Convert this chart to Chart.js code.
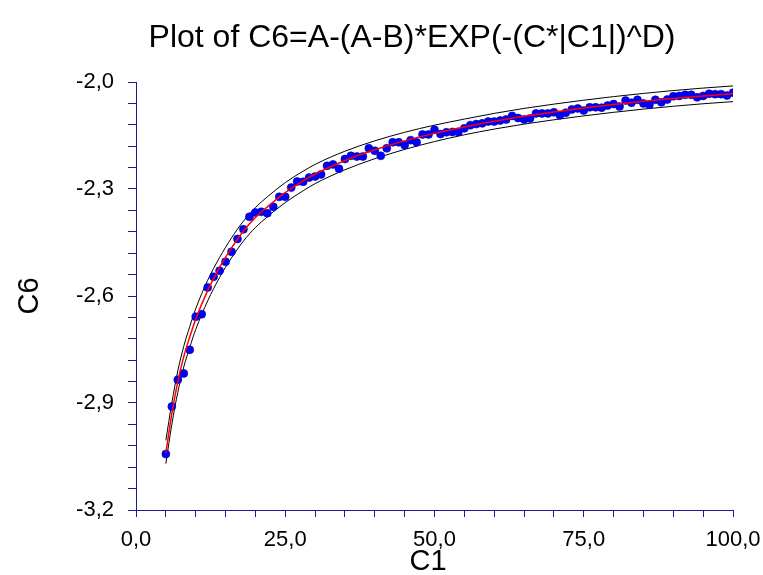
<!DOCTYPE html>
<html>
<head>
<meta charset="utf-8">
<style>
  html, body { margin: 0; padding: 0; background: #fff; }
  #wrap { width: 763px; height: 575px; }
</style>
</head>
<body>
<div id="wrap"><canvas id="chart" width="763" height="575"></canvas></div>

<script src="https://cdn.jsdelivr.net/npm/chart.js"></script>
<script>
// observed data (C1, C6)
const c1 = [5, 6, 7, 8, 9, 10, 11, 12, 13, 14, 15, 16, 17, 18, 19, 20, 21, 22, 23, 24,
  25, 26, 27, 28, 29, 30, 31, 32, 33, 34, 35, 36, 37, 38, 39, 40, 41, 42, 43, 44,
  45, 46, 47, 48, 49, 50, 51, 52, 53, 54, 55, 56, 57, 58, 59, 60, 61, 62, 63, 64,
  65, 66, 67, 68, 69, 70, 71, 72, 73, 74, 75, 76, 77, 78, 79, 80, 81, 82, 83, 84,
  85, 86, 87, 88, 89, 90, 91, 92, 93, 94, 95, 96, 97, 98, 99, 100];
const c6 = [-3.043, -2.910, -2.835, -2.817, -2.751, -2.658, -2.651, -2.576, -2.546, -2.529,
  -2.504, -2.476, -2.440, -2.413, -2.378, -2.366, -2.364, -2.368, -2.350, -2.322,
  -2.322, -2.296, -2.279, -2.280, -2.268, -2.265, -2.259, -2.235, -2.231, -2.243,
  -2.216, -2.207, -2.209, -2.209, -2.186, -2.193, -2.207, -2.186, -2.169, -2.169,
  -2.177, -2.163, -2.169, -2.147, -2.147, -2.134, -2.146, -2.141, -2.140, -2.140,
  -2.130, -2.121, -2.118, -2.116, -2.111, -2.111, -2.108, -2.105, -2.095, -2.101,
  -2.105, -2.102, -2.088, -2.088, -2.088, -2.085, -2.093, -2.086, -2.077, -2.074,
  -2.080, -2.071, -2.071, -2.072, -2.066, -2.062, -2.069, -2.052, -2.058, -2.050,
  -2.060, -2.064, -2.050, -2.057, -2.049, -2.040, -2.039, -2.036, -2.036, -2.043,
  -2.039, -2.033, -2.034, -2.034, -2.038, -2.030];

// fitted curve and its band
const fitX = [5, 6, 7, 8, 9, 10, 12, 14, 16, 18, 20, 22, 25, 28, 30, 35, 40, 45, 50,
  55, 60, 65, 70, 75, 80, 85, 90, 95, 100];
const fitY = [-3.04, -2.93, -2.84, -2.77, -2.715, -2.665, -2.585, -2.52, -2.465, -2.418,
  -2.38, -2.35, -2.31, -2.277, -2.258, -2.220, -2.190, -2.165, -2.144,
  -2.126, -2.110, -2.096, -2.084, -2.073, -2.063, -2.054, -2.046, -2.039, -2.033];
const upperY = [-3.005, -2.90, -2.81, -2.741, -2.686, -2.636, -2.556, -2.492, -2.437, -2.39,
  -2.352, -2.322, -2.282, -2.25, -2.231, -2.194, -2.165, -2.141, -2.121,
  -2.104, -2.088, -2.074, -2.062, -2.051, -2.041, -2.032, -2.024, -2.017, -2.011];
const lowerY = [-3.07, -2.96, -2.87, -2.799, -2.744, -2.694, -2.614, -2.548, -2.493, -2.446,
  -2.408, -2.378, -2.338, -2.305, -2.285, -2.246, -2.215, -2.189, -2.167,
  -2.148, -2.132, -2.118, -2.106, -2.095, -2.085, -2.076, -2.068, -2.061, -2.055];

// axis ticks
const xMajor = [0, 25, 50, 75, 100];
const xMinorStep = 5;
const yMajor = [-3.2, -2.9, -2.6, -2.3, -2.0];
const yMinorPerMajor = 5;

const FONT = "'Liberation Sans', Arial, sans-serif";
const AXIS_COLOR = '#1c1c8c';

function pairs(xs, ys) {
  return xs.map((x, i) => ({ x: x, y: ys[i] }));
}

function fmt(v) {
  return v.toFixed(1).replace('.', ',');
}

// minor + major tick positions
const xTicks = [];
for (let v = xMajor[0]; v <= xMajor[xMajor.length - 1] + 1e-9; v += xMinorStep) xTicks.push(v);
const yTicks = [];
for (let i = 0; i < yMajor.length - 1; i++) {
  const step = (yMajor[i + 1] - yMajor[i]) / yMinorPerMajor;
  for (let k = 0; k < yMinorPerMajor; k++) yTicks.push(yMajor[i] + k * step);
}
yTicks.push(yMajor[yMajor.length - 1]);

const textPlugin = {
  id: 'texts',
  afterDraw(chart) {
    const ctx = chart.ctx;
    const area = chart.chartArea;
    ctx.save();
    ctx.fillStyle = '#000';
    ctx.textAlign = 'center';
    ctx.textBaseline = 'middle';
    ctx.font = '32px ' + FONT;
    ctx.fillText('Plot of C6=A-(A-B)*EXP(-(C*|C1|)^D)', 412, 38);
    ctx.font = '29px ' + FONT;
    ctx.fillText('C1', 428, 562);
    ctx.translate(30, (area.top + area.bottom) / 2);
    ctx.rotate(-Math.PI / 2);
    ctx.fillText('C6', 0, 0);
    ctx.restore();
  }
};

new Chart(document.getElementById('chart').getContext('2d'), {
  type: 'scatter',
  data: {
    datasets: [
      {
        label: 'fit',
        data: pairs(fitX, fitY),
        showLine: true,
        borderColor: '#ff0000',
        borderWidth: 1.5,
        pointRadius: 0,
        cubicInterpolationMode: 'monotone',
        order: 0
      },
      {
        label: 'C6',
        data: pairs(c1, c6),
        pointRadius: 4,
        pointBackgroundColor: '#0000ff',
        pointBorderColor: '#0000a0',
        pointBorderWidth: 0.6,
        order: 1
      },
      {
        label: 'upper',
        data: pairs(fitX, upperY),
        showLine: true,
        borderColor: '#000',
        borderWidth: 1,
        pointRadius: 0,
        cubicInterpolationMode: 'monotone',
        order: 2
      },
      {
        label: 'lower',
        data: pairs(fitX, lowerY),
        showLine: true,
        borderColor: '#000',
        borderWidth: 1,
        pointRadius: 0,
        cubicInterpolationMode: 'monotone',
        order: 2
      }
    ]
  },
  options: {
    responsive: false,
    animation: false,
    events: [],
    layout: { padding: { top: 82, right: 30, left: 0, bottom: 0 } },
    plugins: {
      legend: { display: false },
      tooltip: { enabled: false },
      title: { display: false }
    },
    scales: {
      x: {
        type: 'linear',
        min: 0,
        max: 100,
        afterBuildTicks: scale => { scale.ticks = xTicks.map(v => ({ value: v })); },
        afterFit: scale => {
          scale.height = 65;
          scale.paddingLeft = 0;
          scale.paddingRight = 0;
        },
        grid: { drawOnChartArea: false, drawTicks: true, tickLength: 7, color: AXIS_COLOR },
        border: { display: true, color: AXIS_COLOR, width: 1 },
        ticks: {
          autoSkip: false,
          maxRotation: 0,
          padding: 10,
          color: '#000',
          font: { family: FONT, size: 22 },
          callback: v => xMajor.some(m => Math.abs(m - v) < 1e-6) ? fmt(v) : ''
        }
      },
      y: {
        type: 'linear',
        min: -3.2,
        max: -2.0,
        afterBuildTicks: scale => { scale.ticks = yTicks.map(v => ({ value: v })); },
        afterFit: scale => {
          scale.width = 136;
          scale.paddingTop = 0;
          scale.paddingBottom = 0;
        },
        grid: { drawOnChartArea: false, drawTicks: true, tickLength: 8, color: AXIS_COLOR },
        border: { display: true, color: AXIS_COLOR, width: 1 },
        ticks: {
          autoSkip: false,
          padding: 14,
          color: '#000',
          font: { family: FONT, size: 22 },
          callback: v => yMajor.some(m => Math.abs(m - v) < 1e-6) ? fmt(v) : ''
        }
      }
    }
  },
  plugins: [textPlugin]
});
</script>
</body>
</html>
